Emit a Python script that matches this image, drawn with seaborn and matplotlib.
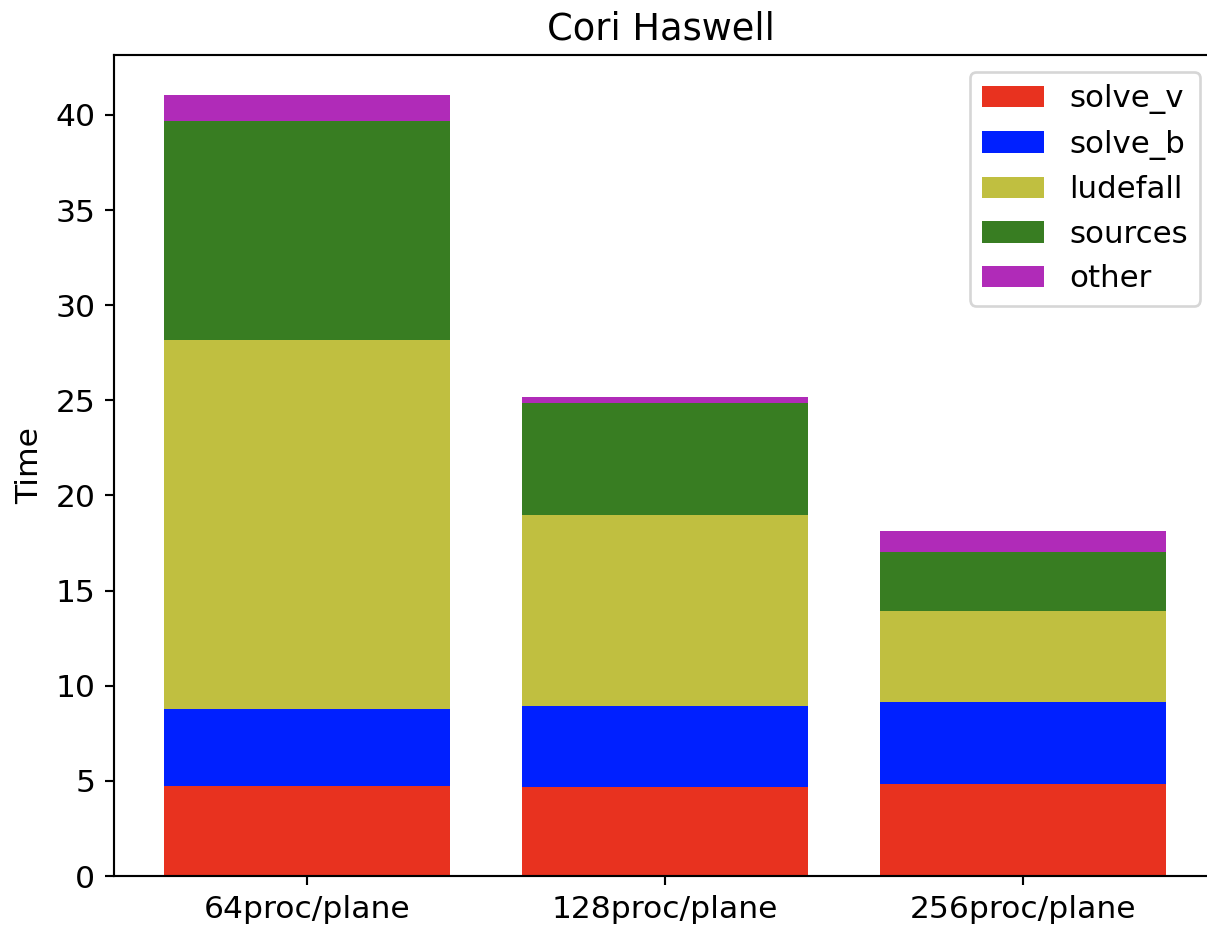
import numpy as np
import pandas as pd
import matplotlib
matplotlib.use("Agg")
import matplotlib.pyplot as plt
import seaborn as sns

categories = ["64proc/plane", "128proc/plane", "256proc/plane"]
series_names = ["solve_v", "solve_b", "ludefall", "sources", "other"]
solve_v = [4.73, 4.68, 4.84]
solve_b = [4.05, 4.26, 4.31]
ludefall = [19.39, 10.04, 4.78]
sources = [11.51, 5.89, 3.10]
other = [1.37, 0.32, 1.10]
colors = ["#e8321f", "#0020ff", "#c0bf40", "#387d22", "#b02bb8"]

plt.rcParams["font.size"] = 11.75
plt.rcParams["font.family"] = ["DejaVu Sans"]

W, H = 1207, 929
fig = plt.figure(figsize=(W / 192, H / 192), dpi=192)
ax_right = 1207
ax = fig.add_axes([114 / W, 1 - 876 / H, (ax_right - 114) / W, (876 - 55) / H])

values = [solve_v, solve_b, ludefall, sources, other]
cum = np.cumsum(np.array(values), axis=0)

for i in reversed(range(len(series_names))):
    df = pd.DataFrame({"cat": categories, "val": cum[i]})
    sns.barplot(data=df, x="cat", y="val", color=colors[i], saturation=1,
                width=0.8, ax=ax, label=series_names[i], linewidth=0)

h, l = ax.get_legend_handles_labels()
order = [l.index(n) for n in series_names]
ax.legend([h[j] for j in order], [l[j] for j in order], loc="upper right",
          bbox_to_anchor=(1200 / W, 1 - 72 / H), bbox_transform=fig.transFigure,
          borderaxespad=0, fontsize=11.6)

unit = 358.0
ax.set_xlim(-0.54, 2 + (ax_right - 1023) / unit)
ax.set_ylim(0, 43.15)
ax.spines["right"].set_visible(False)
ax.set_xlabel("")
ax.set_ylabel("Time")
ax.set_title("Cori Haswell", fontsize=13.8)

fig.savefig("out.png", dpi=192)
